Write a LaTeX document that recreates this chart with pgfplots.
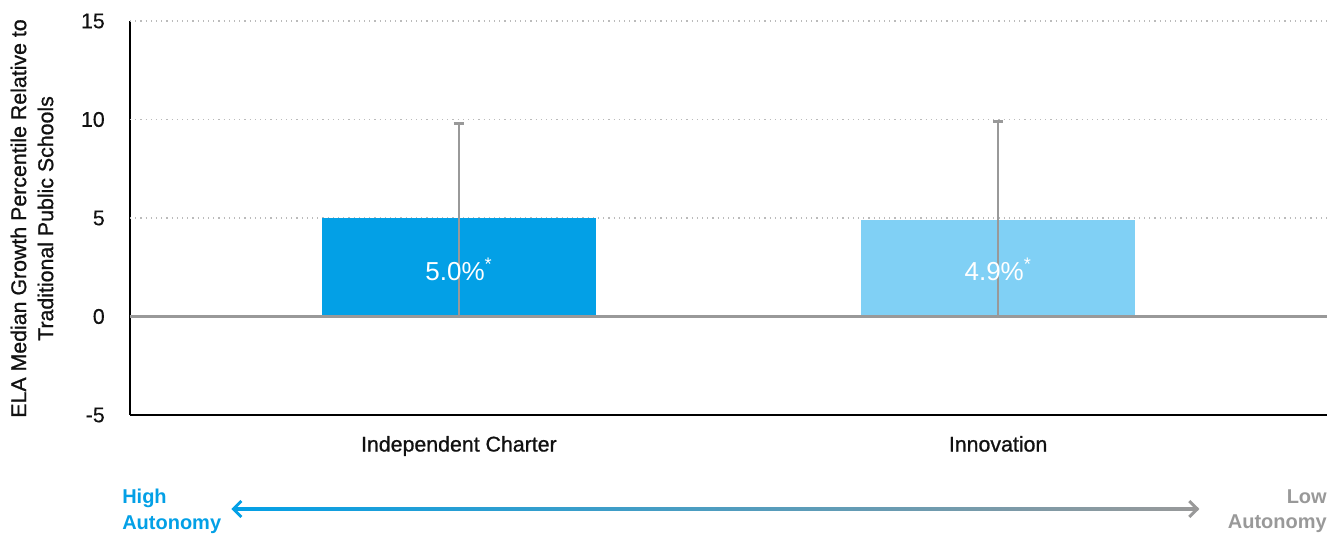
\documentclass[border=0pt]{standalone}
\usepackage{pgfplots}
\pgfplotsset{compat=1.18}
\usepackage{fontspec}
\setmainfont{Liberation Sans}
\newfontfamily\medfont[FakeBold=0.9]{Liberation Sans}
\newfontfamily\tickfont[FakeBold=0.3]{Liberation Sans}
\usetikzlibrary{arrows.meta}
\definecolor{barblue}{HTML}{03A0E6}
\definecolor{barlight}{HTML}{80D0F5}
\definecolor{errgray}{HTML}{999999}
\definecolor{gridgray}{HTML}{BBBBBB}
\definecolor{txt}{HTML}{111111}
\begin{document}
\begin{tikzpicture}
\useasboundingbox (-97.5pt,-89.25pt) rectangle (908.25pt,311.25pt);
\begin{axis}[
  at={(0,0)}, anchor=south west,
  scale only axis,
  width=897.75pt, height=295.5pt,
  xmin=-0.61, xmax=1.61,
  ymin=-5, ymax=15,
  ytick={-5,0,5,10,15},
  yticklabels={-5,0,5,10,15},
  xtick={0,1},
  xticklabels={Independent Charter, Innovation},
  axis x line*=bottom, axis y line*=left,
  axis line style={black, line width=1.6pt},
  x axis line style={line width=2.2pt},
  tick style={draw=none},
  major tick length=0pt,
  extra y ticks={5,10,15},
  extra y tick labels={},
  extra y tick style={grid=major, major grid style={gridgray, line width=1.2pt, dash pattern=on 0.9pt off 3pt}},
  yticklabel style={font=\tickfont\fontsize{16}{19}\selectfont, text=txt, inner xsep=0pt, xshift=-18.75pt},
  xticklabel style={font=\medfont\fontsize{16}{19}\selectfont, text=txt, anchor=base, yshift=-27.4pt},
  ybar, bar width=205.5pt,
  clip=false,
]
\addplot[ybar, bar shift=0pt, fill=barblue, draw=none,
  error bars/.cd, y dir=plus, y explicit,
  error bar style={errgray, line width=1.6pt},
  error mark options={errgray, line width=1.6pt, mark size=4pt, rotate=90}]
  coordinates {(0,5.0) +- (0,4.8)};
\addplot[ybar, bar shift=0pt, fill=barlight, draw=none,
  error bars/.cd, y dir=plus, y explicit,
  error bar style={errgray, line width=1.6pt},
  error mark options={errgray, line width=1.6pt, mark size=4pt, rotate=90}]
  coordinates {(1,4.9) +- (0,5.0)};
\addplot[sharp plot, errgray, line width=2.2pt, forget plot] coordinates {(-0.61,0) (1.61,0)};
\addplot[errgray, line width=1.6pt, forget plot, sharp plot] coordinates {(0,0) (0,5.0)};
\addplot[errgray, line width=1.6pt, forget plot, sharp plot] coordinates {(1,0) (1,4.9)};
\node[text=white, font=\fontsize{19.5}{22}\selectfont] at (axis cs:0,2.4) {5.0\%\textsuperscript{*}};
\node[text=white, font=\fontsize{19.5}{22}\selectfont] at (axis cs:1,2.4) {4.9\%\textsuperscript{*}};
\end{axis}
\node[rotate=90, align=center, text=txt, font=\medfont\fontsize{16}{20.25}\selectfont] at (-73.5pt,147.4pt)
  {ELA Median Growth Percentile Relative to\\Traditional Public Schools};
\shade[left color=barblue, right color=errgray] (77.25pt,-71.6pt) rectangle (801pt,-69.4pt);
\draw[barblue, line width=2.2pt, -{Straight Barb[length=6pt, width=12pt]}] (80pt,-70.5pt) -- (76pt,-70.5pt);
\draw[errgray, line width=2.2pt, -{Straight Barb[length=6pt, width=12pt]}] (798pt,-70.5pt) -- (802pt,-70.5pt);
\node[anchor=north west, align=left, text=barblue, font=\bfseries\fontsize{15}{19}\selectfont, inner sep=0pt] at (-6pt,-55.5pt) {High\\Autonomy};
\node[anchor=north east, align=right, text=errgray, font=\bfseries\fontsize{15}{19}\selectfont, inner sep=0pt] at (897.75pt,-55.5pt) {Low\\Autonomy};
\end{tikzpicture}
\end{document}
